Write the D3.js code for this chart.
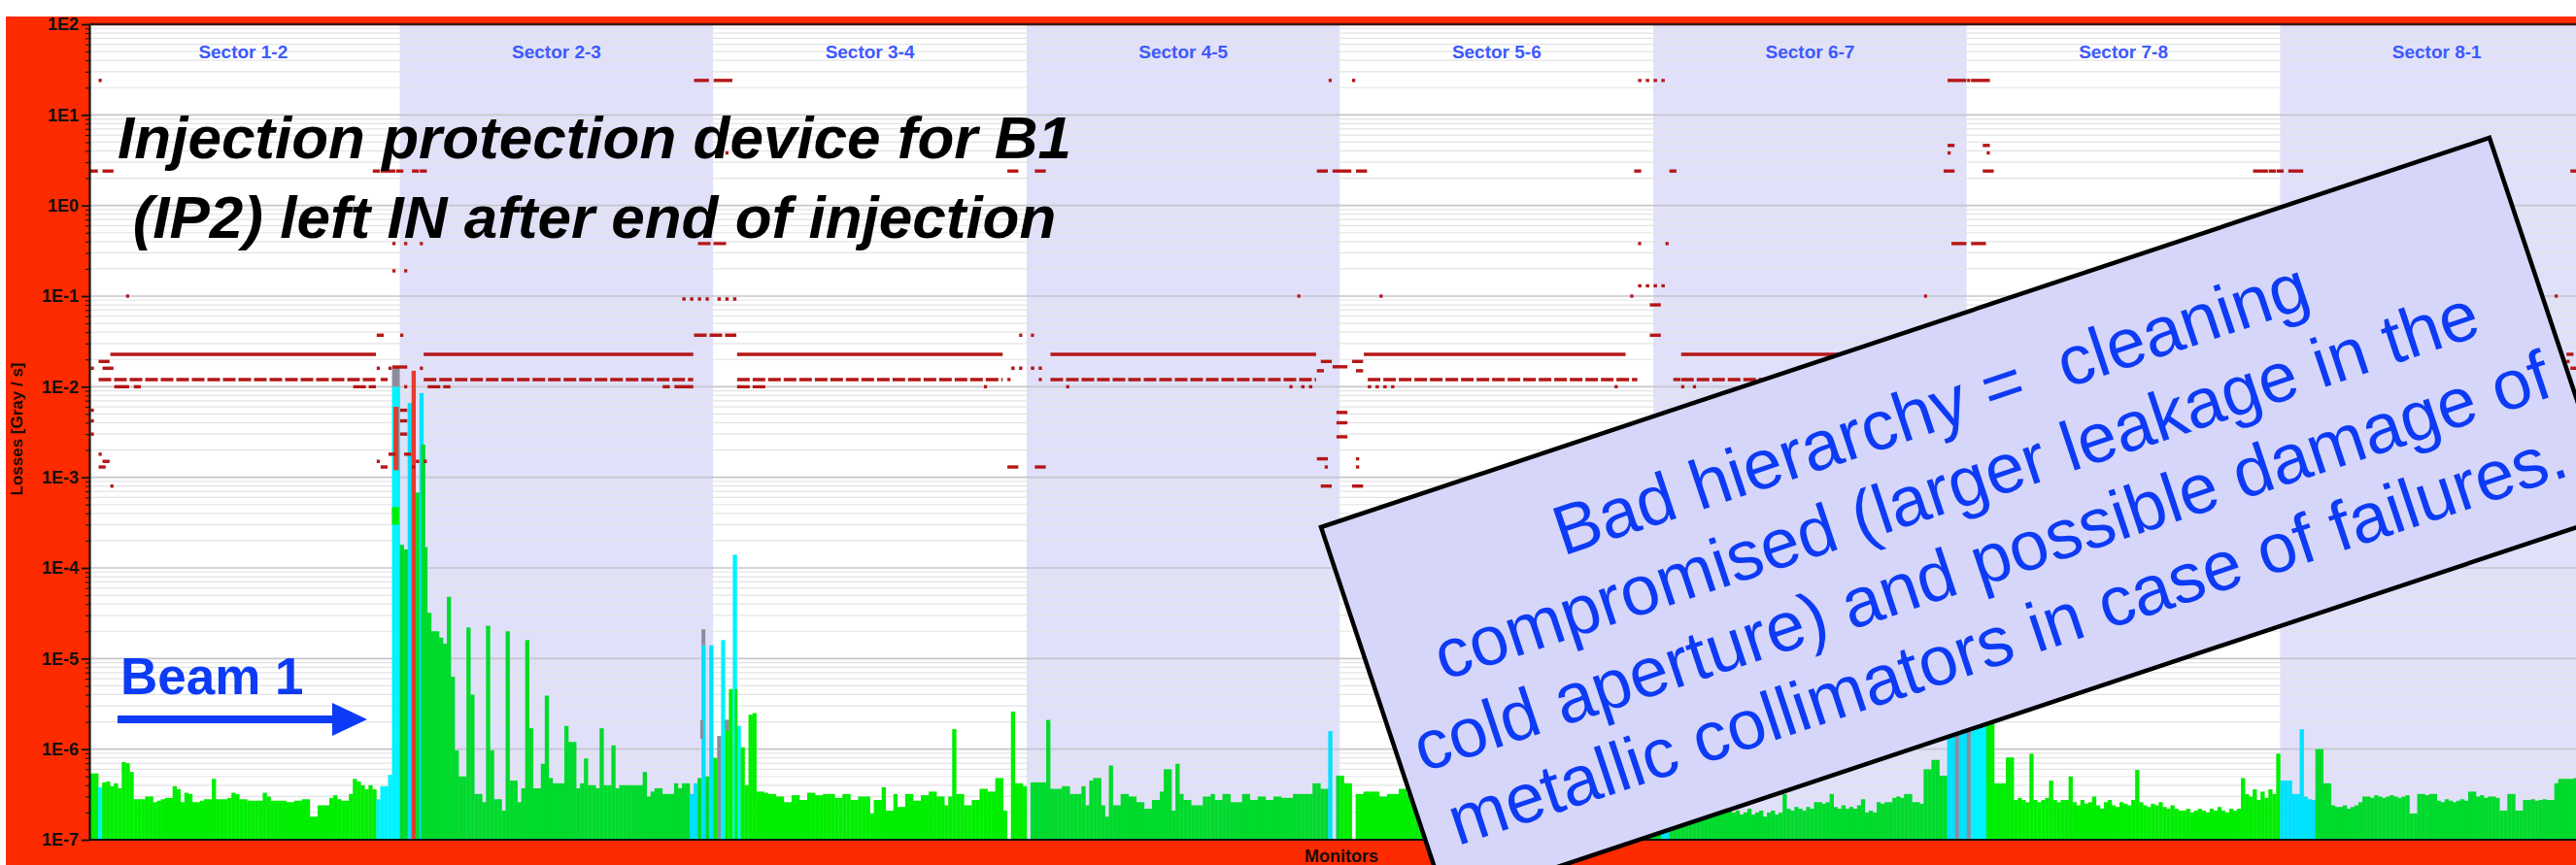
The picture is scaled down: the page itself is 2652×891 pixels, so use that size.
<!DOCTYPE html>
<html>
<head>
<meta charset="utf-8">
<script src="https://cdn.jsdelivr.net/npm/d3@7"></script>
<style>
  html, body { margin: 0; padding: 0; background: #ffffff; }
  svg { display: block; }
</style>
</head>
<body>
<svg id="chart" width="2652" height="891"></svg>
<script>
// ---------------------------------------------------------------
// Beam-loss monitor display: losses per monitor around the ring
// ---------------------------------------------------------------

const sectorNames = ['Sector 1-2', 'Sector 2-3', 'Sector 3-4', 'Sector 4-5',
                     'Sector 5-6', 'Sector 6-7', 'Sector 7-8', 'Sector 8-1'];
const monitorsPerSector = 80;

const yTickExponents = [-7, -6, -5, -4, -3, -2, -1, 0, 1, 2];
const yTickLabels = ['1E-7', '1E-6', '1E-5', '1E-4', '1E-3', '1E-2', '1E-1', '1E0', '1E1', '1E2'];

// Measured losses, one value per monitor, in units of 1E-7 Gy/s
const lossS12 = [
  5.4, 5.4, 5.4, 3.8, 4.3, 4.4, 3.9, 4.2, 3.7, 7.2,
  7.0, 5.6, 2.8, 2.8, 2.8, 3.0, 3.0, 2.6, 2.7, 2.8,
  2.9, 2.9, 3.9, 3.6, 2.6, 3.3, 3.2, 2.6, 2.6, 2.7,
  2.8, 2.8, 4.7, 2.8, 2.8, 2.8, 2.9, 3.3, 3.2, 2.8,
  2.8, 2.7, 2.7, 2.7, 2.7, 3.3, 3.0, 2.7, 2.7, 2.7,
  2.7, 2.6, 2.6, 2.7, 2.7, 2.8, 2.8, 1.8, 1.8, 2.4,
  2.4, 2.4, 2.9, 3.1, 2.8, 2.7, 2.7, 3.2, 4.7, 4.4,
  4.0, 3.6, 4.0, 3.6, 2.8, 3.9, 3.9, 5.2, 100000, 100000
];
const lossS23 = [
  1800, 1600, 66000, 150000, 6800, 85000, 1700, 320, 200, 200,
  170, 146, 480, 63, 9.7, 5, 5, 220, 40, 3.2,
  3.2, 2.6, 230, 9.7, 2.8, 2.8, 2.1, 200, 4.5, 4.5,
  2.6, 3.7, 160, 17, 3.7, 3.7, 6.9, 39, 4.8, 4.2,
  4.2, 4.2, 18, 12, 12, 3.7, 4.2, 7.9, 4.0, 4.0,
  3.7, 17, 4.0, 4.0, 11, 3.7, 4.0, 4.0, 4.0, 4.0,
  4.0, 4.0, 5.6, 3.0, 3.4, 3.7, 3.7, 3.2, 3.2, 3.2,
  4.2, 3.7, 4.2, 4.2, 3.2, 4.2, 4.8, 140, 5, 140
];
const lossS34 = [
  8, 14, 160, 21, 46, 1400, 18, 10.5, 4, 24,
  25, 3.4, 3.4, 3.3, 3.2, 3.2, 3.0, 3.0, 2.6, 2.6,
  3.1, 3.1, 2.75, 2.75, 3.3, 3.3, 3.1, 3.1, 3.2, 3.2,
  3.2, 2.9, 2.9, 3.2, 3.2, 2.75, 2.75, 3.0, 3.0, 3.0,
  1.95, 2.75, 2.75, 3.8, 2.1, 2.1, 3.2, 2.3, 2.3, 3.2,
  3.2, 2.7, 2.7, 3.1, 3.1, 3.4, 3.4, 3.0, 3.0, 2.4,
  3.0, 16.6, 3.2, 3.2, 2.4, 2.4, 2.75, 2.75, 3.65, 3.65,
  3.4, 3.4, 4.8, 4.8, 2.1, 1, 26, 4.2, 4.2, 3.9
];
const lossS45 = [
  1, 4.3, 4.3, 4.3, 4.3, 21, 3.65, 3.65, 3.65, 3.9,
  3.9, 3.2, 3.2, 3.2, 3.9, 2.4, 4.5, 4.8, 4.8, 2.4,
  1.8, 6.6, 2.4, 2.4, 3.2, 3.2, 3.0, 3.0, 2.6, 2.6,
  2.2, 2.2, 2.75, 2.75, 3.4, 6.0, 6.0, 2.1, 6.9, 3.2,
  2.75, 2.75, 2.4, 2.4, 2.4, 3.0, 3.0, 3.2, 2.75, 2.75,
  3.2, 3.2, 2.6, 2.6, 2.6, 3.2, 3.2, 2.75, 2.75, 3.0,
  3.0, 2.75, 2.75, 3.0, 3.0, 2.9, 2.9, 2.9, 3.2, 3.2,
  3.2, 3.2, 3.2, 4.2, 4.2, 3.65, 3.65, 15.8, 1, 5.1
];
const lossS56 = [
  5.1, 4.2, 4.2, 1, 3.2, 3.2, 3.4, 3.4, 3.4, 3.4,
  3.0, 3.0, 3.2, 3.2, 3.2, 3.65, 3.65, 3.2, 3.0, 2.8,
  3.1, 2.9, 3.3, 3.0, 2.7, 3.2, 3.4, 2.9, 3.1, 3.0,
  2.8, 3.3, 3.0, 2.9, 3.2, 2.7, 3.1, 3.4, 3.0, 2.8,
  3.0, 3.2, 2.9, 3.1, 2.8, 3.3, 3.0, 2.9, 3.2, 3.1,
  2.8, 3.0, 3.3, 2.9, 3.1, 3.0, 2.7, 3.2, 3.0, 3.1,
  2.9, 3.3, 3.0, 2.8, 3.1, 3.2, 2.9, 3.0, 3.4, 3.1,
  2.9, 3.2, 3.6, 3.0, 3.3, 2.9, 3.5, 4.2, 3.8, 4.6
];
const lossS67 = [
  3.0, 3.2, 6.0, 5.5, 3.4, 2.9, 3.1, 2.8, 3.0, 2.7,
  2.9, 3.1, 2.6, 2.8, 3.0, 2.7, 2.5, 2.9, 2.6, 2.4,
  2.0, 2.1, 1.9, 2.0, 2.2, 1.9, 2.0, 2.1, 1.8, 2.0,
  2.1, 1.9, 2.0, 3.2, 2.2, 2.1, 2.3, 2.2, 2.1, 2.3,
  2.2, 2.6, 2.6, 2.5, 2.6, 3.2, 2.3, 2.2, 2.4, 2.2,
  2.3, 2.2, 2.4, 2.8, 2.0, 2.1, 2.0, 2.6, 2.5, 2.6,
  2.6, 2.9, 3.0, 2.9, 3.2, 3.2, 2.6, 2.6, 2.5, 6.0,
  6.0, 7.6, 7.6, 5.1, 5.1, 40, 45, 30, 50, 35
];
const lossS78 = [
  25, 60, 45, 55, 40, 20, 20, 4.2, 4.2, 4.2,
  8.1, 8.1, 2.75, 2.9, 2.75, 2.6, 8.9, 2.75, 2.6, 2.75,
  2.9, 4.5, 2.75, 2.6, 2.75, 2.75, 5.0, 2.6, 2.4, 2.75,
  2.5, 2.6, 3.0, 2.4, 2.2, 2.6, 2.75, 2.4, 2.3, 2.6,
  2.5, 2.4, 2.75, 5.9, 2.6, 2.4, 2.3, 2.5, 2.4, 2.6,
  2.3, 2.2, 2.4, 2.2, 2.1, 2.1, 2.2, 2.0, 2.1, 2.2,
  2.1, 2.0, 2.2, 2.1, 2.3, 2.1, 2.0, 2.2, 2.1, 2.2,
  4.8, 3.2, 3.0, 3.6, 2.75, 3.4, 2.9, 3.6, 3.2, 8.9
];
const lossS81 = [
  4.5, 4.5, 4.5, 3.2, 3.2, 16.6, 3.0, 2.8, 2.75, 10,
  10, 4.2, 4.2, 2.4, 2.3, 2.3, 2.4, 2.2, 2.3, 2.4,
  2.6, 3.0, 3.0, 2.9, 3.1, 3.0, 2.9, 3.0, 3.1, 3.0,
  2.9, 3.0, 3.1, 1.95, 1.95, 3.2, 3.2, 3.1, 3.2, 3.2,
  2.7, 2.6, 2.8, 2.7, 2.6, 2.7, 2.8, 2.7, 3.4, 3.4,
  3.0, 3.1, 2.9, 3.0, 3.0, 2.9, 2.1, 2.1, 3.2, 3.2,
  2.1, 2.1, 2.75, 2.75, 2.8, 2.7, 2.75, 2.8, 2.75, 2.75,
  4.2, 4.7, 4.7, 4.7, 4.7, 4.8, 4.6, 4.7, 4.6, 4.7
];

// Monitor families other than the arc monitors (green)
const cyanMonitors = [3, 74, 75, 76, 77, 78, 79, 82, 85, 154, 155, 157, 159, 162, 165, 166,
                      317, 402, 403, 475, 476, 478, 479, 481, 482, 483, 484,
                      560, 561, 562, 563, 564, 565, 566, 567, 568];
const grayMonitors = [161, 477, 480];
const redMonitors = [83];

// Extra partial bars drawn over the main ones: [from monitor, to monitor, low, high (1E-7 Gy/s), family]
const lossSegments = [
  [78, 80, 100000, 165000, 'gray'],
  [78.4, 79.7, 12000, 60000, 'red'],
  [78, 79.8, 3000, 4700, 'green'],
  [85.4, 86.5, 1, 23000, 'green'],
  [157, 158, 140, 210, 'gray'],
  [156.7, 157.4, 13, 21, 'gray'],
  [163, 164, 16, 21, 'gray'],
  [165.5, 166.2, 1, 46, 'green']
];

// Dump thresholds in Gy/s: [level, first monitor, last monitor, style 0 solid / 1 dashed / 2 dotted]
const limitLines = [
  [0.0228, 6, 73, 0], [0.0228, 86, 154, 0], [0.0228, 166, 233, 0], [0.0228, 246, 313, 0],
  [0.0228, 326, 392, 0], [0.0228, 407, 474, 0], [0.0228, 487, 553, 0], [0.0228, 567, 631, 0],
  [0.012, 3, 73, 1], [0.012, 86, 154, 1], [0.012, 166, 233, 1], [0.012, 246, 313, 1],
  [0.012, 327, 395, 1], [0.012, 407, 474, 1], [0.012, 487, 553, 1], [0.012, 567, 631, 1]
];
const limitMarks = [
  [24, 3, 3, 0],
  [2.4, 0, 2, 0], [2.4, 4, 6, 0],
  [0.1, 10, 10, 0],
  [0.019, 3, 5, 0],
  [0.016, 1, 1, 0], [0.016, 4, 6, 0],
  [0.01, 7, 10, 0], [0.01, 12, 13, 0],
  [0.0055, 1, 1, 0], [0.0042, 1, 1, 0], [0.003, 1, 1, 0],
  [0.0018, 3, 3, 0], [0.0015, 4, 5, 0], [0.0013, 3, 4, 0], [0.0008, 6, 6, 0],
  [2.4, 73, 74, 0], [2.4, 75, 78, 0], [2.4, 79, 80, 0], [2.4, 83, 84, 0], [2.4, 85, 86, 0],
  [0.38, 78, 78, 0], [0.38, 81, 81, 0], [0.38, 85, 85, 0],
  [0.19, 78, 78, 0], [0.19, 81, 81, 0],
  [0.037, 74, 75, 0], [0.037, 80, 80, 0],
  [0.016, 74, 74, 0], [0.016, 77, 77, 0], [0.0165, 78, 81, 0], [0.016, 85, 85, 0],
  [0.012, 75, 76, 0],
  [0.01, 68, 73, 1], [0.01, 81, 81, 0], [0.01, 87, 92, 1],
  [0.0055, 80, 81, 0], [0.0042, 80, 81, 0], [0.003, 80, 81, 0],
  [0.0015, 74, 74, 0], [0.0013, 75, 76, 0], [0.0018, 77, 78, 0],
  [0.0018, 81, 82, 0], [0.0015, 84, 86, 2], [0.0013, 83, 83, 0],
  [24, 155, 158, 0], [24, 160, 164, 0],
  [3.8, 156, 156, 0], [3.8, 163, 163, 0],
  [0.38, 156, 163, 1],
  [0.093, 152, 158, 2], [0.093, 161, 166, 2],
  [0.037, 155, 165, 1],
  [0.01, 147, 148, 0], [0.01, 150, 154, 0], [0.01, 166, 173, 1], [0.01, 229, 229, 0],
  [2.4, 235, 237, 0], [2.4, 242, 244, 0],
  [0.037, 238, 238, 0], [0.037, 241, 241, 0],
  [0.016, 236, 238, 2], [0.016, 241, 243, 2],
  [0.012, 235, 235, 0], [0.012, 243, 243, 0],
  [0.0013, 235, 237, 0], [0.0013, 242, 244, 0],
  [0.01, 250, 250, 0], [0.01, 307, 307, 0], [0.01, 310, 313, 2], [0.1, 309, 309, 0],
  [24, 317, 317, 0], [24, 323, 323, 0],
  [2.4, 314, 316, 0], [2.4, 318, 322, 0], [2.4, 324, 326, 0],
  [0.1, 330, 330, 0],
  [0.019, 315, 317, 0], [0.019, 323, 325, 0],
  [0.0166, 318, 321, 0], [0.015, 314, 315, 0], [0.015, 324, 325, 0],
  [0.01, 327, 333, 2], [0.01, 390, 390, 0],
  [0.0052, 319, 321, 0], [0.004, 319, 321, 0], [0.0028, 319, 321, 0],
  [0.0016, 314, 316, 0], [0.0016, 324, 324, 0],
  [0.0013, 316, 316, 0], [0.0013, 324, 324, 0],
  [0.0008, 315, 317, 0], [0.0008, 323, 325, 0],
  [24, 396, 403, 2],
  [2.4, 395, 396, 0], [2.4, 404, 405, 0],
  [0.38, 396, 396, 0], [0.38, 403, 403, 0],
  [0.13, 396, 403, 2],
  [0.1, 394, 394, 0],
  [0.08, 399, 401, 0], [0.037, 399, 401, 0],
  [0.012, 405, 406, 0],
  [0.01, 407, 407, 0], [0.01, 410, 410, 0],
  [0.1, 469, 469, 0],
  [24, 475, 479, 0], [24, 480, 480, 0], [24, 481, 485, 0],
  [4.6, 475, 476, 0], [4.6, 484, 485, 0],
  [3.8, 475, 475, 0], [3.8, 485, 485, 0],
  [2.4, 474, 476, 0], [2.4, 484, 486, 0],
  [0.38, 476, 479, 0], [0.38, 481, 484, 0],
  [2.4, 553, 556, 0], [2.4, 557, 558, 0], [2.4, 559, 560, 0], [2.4, 562, 565, 0],
  [0.1, 630, 630, 0],
  [2.4, 634, 639, 0],
  [0.0228, 633, 634, 0], [0.019, 633, 633, 0], [0.016, 634, 635, 0]
];

// Annotation texts
const titleLines = ['Injection protection device for B1', '(IP2) left IN after end of injection'];
const beamLabel = 'Beam 1';
const noteLines = ['Bad hierarchy =  cleaning', 'compromised (larger leakage in the',
                   'cold aperture) and possible damage of', 'metallic collimators in case of failures.'];

// ---------------------------------------------------------------
const W = 2652, H = 891;
const plotLeft = 92, plotTop = 25, plotBottom = 865;
const axisFont = "'Liberation Sans', Arial, sans-serif";

const colours = {
  frame: '#fe2a00',
  band: ['#ffffff', '#e0e0fa'],
  green: ['#00ee00', '#00da2c'],
  cyan: ['#00f2ff', '#00e0ff'],
  gray: ['#8c8c9e', '#8c8c9e'],
  red: ['#e8392c', '#e8392c'],
  limit: '#b51616',
  sector: '#3c5aff',
  blue: '#0d3bf5'
};

const x = d3.scaleLinear().domain([0, sectorNames.length * monitorsPerSector]).range([89, 2670]);
const y = d3.scaleLog().domain([1e-7, 1e2]).range([plotBottom, plotTop]);
const unit = 1e-7;

const svg = d3.select('#chart');

// red frame
svg.append('rect').attr('x', 6).attr('y', 17).attr('width', W - 6).attr('height', H - 17)
  .attr('fill', colours.frame);

svg.append('clipPath').attr('id', 'plotClip').append('rect')
  .attr('x', plotLeft).attr('y', plotTop).attr('width', W - plotLeft).attr('height', plotBottom - plotTop);
const g = svg.append('g').attr('clip-path', 'url(#plotClip)');

g.append('rect').attr('x', plotLeft).attr('y', plotTop).attr('width', W - plotLeft)
  .attr('height', plotBottom - plotTop).attr('fill', '#ffffff');

// alternating sector bands
g.selectAll('rect.band').data(sectorNames).join('rect').attr('class', 'band')
  .attr('x', (d, i) => x(i * monitorsPerSector))
  .attr('width', (d, i) => x((i + 1) * monitorsPerSector) - x(i * monitorsPerSector))
  .attr('y', plotTop).attr('height', plotBottom - plotTop)
  .attr('fill', (d, i) => colours.band[i % 2]);

// log grid
const majorValues = yTickExponents.map(e => Math.pow(10, e));
const minorValues = [];
yTickExponents.slice(0, -1).forEach(e => {
  for (let k = 2; k <= 9; k++) minorValues.push(k * Math.pow(10, e));
});
g.selectAll('line.minor').data(minorValues).join('line').attr('class', 'minor')
  .attr('x1', plotLeft).attr('x2', W).attr('y1', d => y(d)).attr('y2', d => y(d))
  .attr('stroke', '#e3e3e6').attr('stroke-width', 1.2);
g.selectAll('line.major').data(majorValues).join('line').attr('class', 'major')
  .attr('x1', plotLeft).attr('x2', W).attr('y1', d => y(d)).attr('y2', d => y(d))
  .attr('stroke', '#c6c6cc').attr('stroke-width', 1.6);

// sector names
g.selectAll('text.sector').data(sectorNames).join('text').attr('class', 'sector')
  .attr('x', (d, i) => x((i + 0.5) * monitorsPerSector)).attr('y', 60)
  .attr('text-anchor', 'middle').attr('font-family', axisFont).attr('font-weight', 'bold')
  .attr('font-size', 19).attr('fill', colours.sector).text(d => d);

// monitors
const sectorLoss = [lossS12, lossS23, lossS34, lossS45, lossS56, lossS67, lossS78, lossS81];
const familyOf = m => redMonitors.includes(m) ? 'red'
  : grayMonitors.includes(m) ? 'gray'
  : cyanMonitors.includes(m) ? 'cyan' : 'green';
const monitors = sectorLoss.flatMap((arr, s) =>
  arr.map((v, i) => ({ m: s * monitorsPerSector + i, v, s, family: familyOf(s * monitorsPerSector + i) })));
const bandOf = m => Math.floor(m / monitorsPerSector) % 2;

g.selectAll('rect.bar').data(monitors).join('rect').attr('class', 'bar')
  .attr('x', d => x(d.m))
  .attr('width', d => x(d.m + 1) - x(d.m) + 0.3)
  .attr('y', d => y(d.v * unit))
  .attr('height', d => y(unit) - y(d.v * unit))
  .attr('fill', d => colours[d.family][d.s % 2]);

g.selectAll('rect.segment').data(lossSegments).join('rect').attr('class', 'segment')
  .attr('x', d => x(d[0]))
  .attr('width', d => x(d[1]) - x(d[0]))
  .attr('y', d => y(d[3] * unit))
  .attr('height', d => y(d[2] * unit) - y(d[3] * unit))
  .attr('fill', d => colours[d[4]][bandOf(d[0])]);

// thresholds
const dashes = ['none', '13,3', '3.5,4.5'];
g.selectAll('line.limit').data(limitLines.concat(limitMarks)).join('line').attr('class', 'limit')
  .attr('x1', d => x(d[1]) + 0.4)
  .attr('x2', d => x(d[2] + 1) - 0.4)
  .attr('y1', d => y(d[0])).attr('y2', d => y(d[0]))
  .attr('stroke', colours.limit).attr('stroke-width', 3.4)
  .attr('stroke-dasharray', d => dashes[d[3]]);

// axes
const yAxisMajor = d3.axisLeft(y).tickValues(majorValues)
  .tickFormat((d, i) => yTickLabels[i]).tickSize(8).tickSizeOuter(0).tickPadding(3);
const yAxisMinor = d3.axisLeft(y).tickValues(minorValues).tickFormat('').tickSize(4).tickSizeOuter(0);

const gMinor = svg.append('g').attr('transform', `translate(${plotLeft},0)`).call(yAxisMinor);
gMinor.select('.domain').remove();
gMinor.selectAll('line').attr('stroke', '#1a1a1a').attr('stroke-width', 1.2);

const gMajor = svg.append('g').attr('transform', `translate(${plotLeft},0)`).call(yAxisMajor);
gMajor.select('.domain').attr('stroke', '#111').attr('stroke-width', 2.2);
gMajor.selectAll('.tick line').attr('stroke', '#111').attr('stroke-width', 1.8);
gMajor.selectAll('.tick text').attr('font-family', axisFont).attr('font-weight', 'bold')
  .attr('font-size', 18).attr('fill', '#141010');

const xAxis = d3.axisBottom(x).tickValues([]).tickSizeOuter(0);
const gX = svg.append('g').attr('transform', `translate(0,${plotBottom})`).call(xAxis);
gX.select('.domain').attr('stroke', '#111').attr('stroke-width', 2.2)
  .attr('d', `M${plotLeft},0H${W}`);

svg.append('line').attr('x1', plotLeft).attr('x2', W).attr('y1', plotTop).attr('y2', plotTop)
  .attr('stroke', '#3a1414').attr('stroke-width', 2.4);

// axis titles
svg.append('text').attr('transform', 'translate(23,442) rotate(-90)')
  .attr('text-anchor', 'middle').attr('font-family', axisFont).attr('font-weight', 'bold')
  .attr('font-size', 17).attr('fill', '#1a0c08').text('Losses [Gray / s]');
svg.append('text').attr('x', (plotLeft + x.range()[1]) / 2).attr('y', 888)
  .attr('text-anchor', 'middle').attr('font-family', axisFont).attr('font-weight', 'bold')
  .attr('font-size', 18).attr('fill', '#1a0c08').text('Monitors');

// headline
svg.append('g').selectAll('text').data(titleLines).join('text')
  .attr('x', 612).attr('y', (d, i) => 163 + i * 82)
  .attr('text-anchor', 'middle').attr('font-family', axisFont)
  .attr('font-weight', 'bold').attr('font-style', 'italic').attr('font-size', 62)
  .attr('fill', '#000000').text(d => d);

// beam direction
svg.append('text').attr('x', 124).attr('y', 715).attr('font-family', axisFont)
  .attr('font-weight', 'bold').attr('font-size', 53).attr('fill', colours.blue).text(beamLabel);
svg.append('line').attr('x1', 121).attr('x2', 346).attr('y1', 741).attr('y2', 741)
  .attr('stroke', colours.blue).attr('stroke-width', 8);
svg.append('path').attr('d', 'M342,724L378,741L342,758Z').attr('fill', colours.blue);

// tilted note
const note = svg.append('g').attr('transform', 'translate(1360,543) rotate(-18.44)');
note.append('rect').attr('x', 0).attr('y', 0).attr('width', 1268).attr('height', 409)
  .attr('fill', '#d6d6fa').attr('stroke', '#000').attr('stroke-width', 4.5);
note.selectAll('text').data(noteLines).join('text')
  .attr('x', 634).attr('y', (d, i) => 107 + i * 83)
  .attr('text-anchor', 'middle').attr('font-family', axisFont).attr('font-size', 72)
  .attr('fill', colours.blue).style('white-space', 'pre').text(d => d);
</script>
</body>
</html>
